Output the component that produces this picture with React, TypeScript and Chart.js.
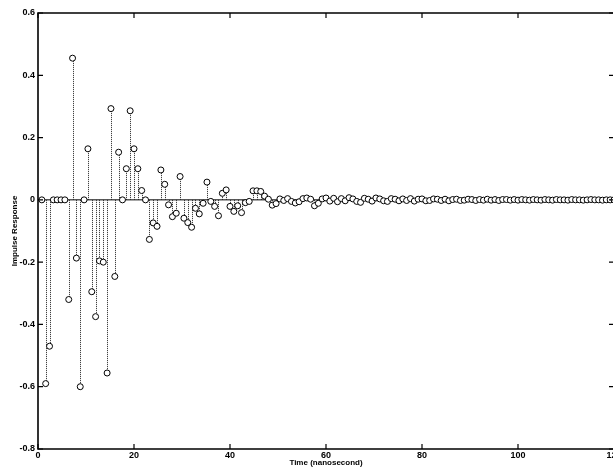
import React, { useEffect, useRef } from "react";
import { Chart, registerables } from "chart.js";

Chart.register(...registerables);

// Sampling interval of the impulse response (ns); samples k = 1..150
const SAMPLE_INTERVAL_NS = 0.8;

// Impulse response values (sample k = 1 .. 150)
const RESPONSE: number[] = [
  0, -0.59, -0.47, 0, 0, 0, 0, -0.32, 0.455, -0.187,
  -0.6, 0, 0.164, -0.295, -0.375, -0.196, -0.2, -0.556, 0.293, -0.246,
  0.153, 0, 0.1, 0.286, 0.164, 0.1, 0.03, 0, -0.127, -0.074,
  -0.085, 0.096, 0.05, -0.016, -0.054, -0.043, 0.075, -0.059, -0.073, -0.088,
  -0.027, -0.045, -0.011, 0.057, -0.005, -0.021, -0.051, 0.021, 0.032, -0.021,
  -0.037, -0.019, -0.041, -0.009, -0.005, 0.029, 0.029, 0.027, 0.012, 0.002,
  -0.017, -0.012, 0.003, -0.002, 0.004, -0.005, -0.01, -0.006, 0.004, 0.006,
  0.002, -0.019, -0.011, 0.003, 0.006, -0.004, 0.005, -0.006, 0.004, -0.003,
  0.007, 0.003, -0.005, -0.008, 0.005, 0.002, -0.004, 0.006, 0.003, -0.003,
  -0.005, 0.004, 0.002, -0.003, 0.003, -0.002, 0.004, -0.004, 0.002, 0.003,
  -0.003, -0.002, 0.003, 0.002, -0.002, 0.002, -0.003, 0.001, 0.002, -0.002,
  -0.001, 0.002, 0.001, -0.002, 0.001, -0.001, 0.002, -0.001, 0.001, -0.002,
  0.001, 0.001, -0.001, 0.001, -0.001, 0.001, 0, -0.001, 0.001, 0,
  -0.001, 0.001, 0, -0.001, 0.001, 0, 0, -0.001, 0.001, 0,
  0, -0.001, 0, 0.001, 0, 0, -0.001, 0, 0, 0,
];

const X_TICKS = [0, 20, 40, 60, 80, 100, 120];
const Y_TICKS = [-0.8, -0.6, -0.4, -0.2, 0, 0.2, 0.4, 0.6];
const Y_TICK_LABELS = ["-0.8", "-0.6", "-0.4", "-0.2", "0", "0.2", "0.4", "0.6"];

const X_TITLE = "Time (nanosecond)";
const Y_TITLE = "Impulse Response";

const FONT = '"Liberation Sans Narrow", "Liberation Sans", Arial, sans-serif';

const stemPlugin = {
  id: "stems",
  beforeDatasetsDraw(chart: any) {
    const { ctx, chartArea, scales } = chart;
    const xs = scales.x;
    const ys = scales.y;
    const y0 = ys.getPixelForValue(0);
    ctx.save();
    // baseline
    ctx.strokeStyle = "#000";
    ctx.lineWidth = 1;
    ctx.setLineDash([]);
    ctx.beginPath();
    ctx.moveTo(chartArea.left, y0);
    ctx.lineTo(chartArea.right, y0);
    ctx.stroke();
    // stems
    ctx.strokeStyle = "#222";
    ctx.lineWidth = 1;
    ctx.setLineDash([1, 1]);
    const data = chart.data.datasets[0].data as { x: number; y: number }[];
    data.forEach((p) => {
      const px = Math.round(xs.getPixelForValue(p.x)) + 0.5;
      const py = ys.getPixelForValue(p.y);
      ctx.beginPath();
      ctx.moveTo(px, y0);
      ctx.lineTo(px, py);
      ctx.stroke();
    });
    ctx.restore();
  },
  afterDraw(chart: any) {
    const { ctx, chartArea, scales } = chart;
    const { left, right, top, bottom } = chartArea;
    ctx.save();
    ctx.strokeStyle = "#000";
    ctx.setLineDash([]);
    ctx.lineWidth = 1.6;
    ctx.beginPath();
    ctx.rect(left, top, right - left, bottom - top);
    ctx.stroke();
    ctx.lineWidth = 1.2;
    const tl = 5;
    scales.x.ticks.forEach((t: any) => {
      const px = scales.x.getPixelForValue(t.value);
      ctx.beginPath();
      ctx.moveTo(px, bottom);
      ctx.lineTo(px, bottom - tl);
      ctx.moveTo(px, top);
      ctx.lineTo(px, top + tl);
      ctx.stroke();
    });
    scales.y.ticks.forEach((t: any) => {
      const py = scales.y.getPixelForValue(t.value);
      ctx.beginPath();
      ctx.moveTo(left, py);
      ctx.lineTo(left + tl, py);
      ctx.moveTo(right, py);
      ctx.lineTo(right - tl, py);
      ctx.stroke();
    });
    ctx.restore();
  },
};

export default function App() {
  const canvasRef = useRef<HTMLCanvasElement | null>(null);

  useEffect(() => {
    const canvas = canvasRef.current;
    if (!canvas) return;
    const points = RESPONSE.map((v, i) => ({ x: (i + 1) * SAMPLE_INTERVAL_NS, y: v }));
    const chart = new Chart(canvas, {
      type: "scatter",
      data: {
        datasets: [
          {
            data: points,
            showLine: false,
            pointStyle: "circle",
            pointRadius: 3,
            pointBorderWidth: 1,
            pointBorderColor: "#000",
            pointBackgroundColor: "#fff",
          },
        ],
      },
      options: {
        animation: false,
        responsive: false,
        devicePixelRatio: 1,
        layout: { padding: { left: 0, right: 16, top: 13, bottom: 0 } },
        plugins: {
          legend: { display: false },
          tooltip: { enabled: false },
        },
        scales: {
          x: {
            type: "linear",
            min: 0,
            max: 120,
            afterBuildTicks: (s: any) => {
              s.ticks = X_TICKS.map((v) => ({ value: v }));
            },
            afterFit: (s: any) => {
              s.height = 21;
            },
            grid: { display: false, drawTicks: false },
            border: { display: false },
            ticks: {
              padding: 1,
              maxRotation: 0,
              autoSkip: false,
              color: "#000",
              font: { family: FONT, size: 9, weight: "bold" },
              callback: (v: any) => String(v),
            },
            title: {
              display: true,
              text: X_TITLE,
              color: "#000",
              padding: { top: 0, bottom: 2 },
              font: { family: FONT, size: 8, weight: "bold" },
            },
          },
          y: {
            type: "linear",
            min: -0.8,
            max: 0.6,
            afterBuildTicks: (s: any) => {
              s.ticks = Y_TICKS.map((v) => ({ value: v }));
            },
            afterFit: (s: any) => {
              s.width = 38;
            },
            grid: { display: false, drawTicks: false },
            border: { display: false },
            ticks: {
              padding: 3,
              autoSkip: false,
              color: "#000",
              font: { family: FONT, size: 9, weight: "bold" },
              callback: (v: any) => {
                const i = Y_TICKS.findIndex((t) => Math.abs(t - Number(v)) < 1e-9);
                return i >= 0 ? Y_TICK_LABELS[i] : "";
              },
            },
            title: {
              display: true,
              text: Y_TITLE,
              color: "#000",
              padding: { top: 10, bottom: 0 },
              font: { family: FONT, size: 8, weight: "bold" },
            },
          },
        },
      },
      plugins: [stemPlugin],
    });
    return () => chart.destroy();
  }, []);

  return (
    <div
      style={{
        position: "fixed",
        left: 0,
        top: 0,
        width: 613,
        height: 470,
        overflow: "hidden",
        background: "#fff",
      }}
    >
      <canvas ref={canvasRef} width={630} height={470} style={{ display: "block" }} />
    </div>
  );
}
